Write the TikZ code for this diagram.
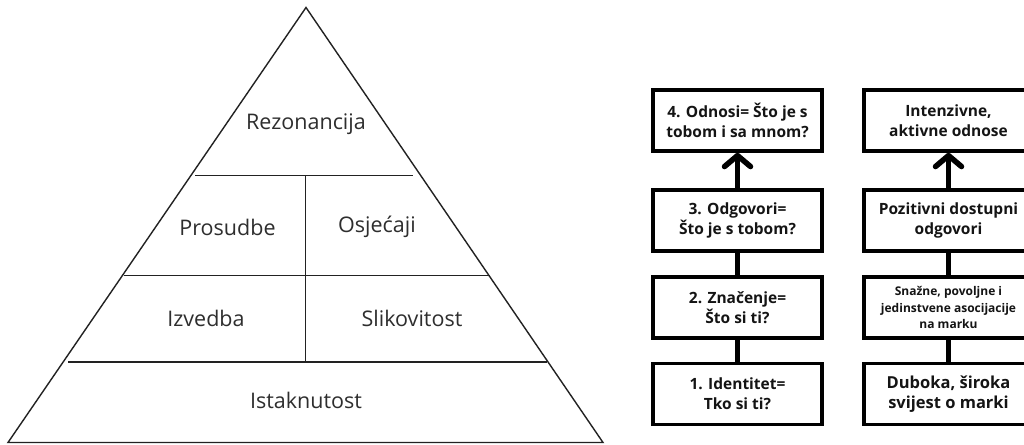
\documentclass[tikz,border=0pt]{standalone}
\usepackage{fontspec}
\setmainfont{Open Sans}
\usetikzlibrary{arrows.meta}
\definecolor{pyrtext}{HTML}{2E2E2E}
\definecolor{pyrline}{HTML}{222222}
\definecolor{boxtext}{HTML}{141414}
\tikzset{
  pyrlab/.style={text=pyrtext, font=\fontsize{21.5}{26}\selectfont, inner sep=0pt},
  pyredge/.style={draw=pyrline, line width=1.4pt},
  boxnode/.style={draw=black, line width=3.6pt, minimum width=169pt, minimum height=61pt,
    align=center, text=boxtext, inner sep=2pt, font=\bfseries\fontsize{15.5}{20}\selectfont},
  conn/.style={draw=black, line width=5.5pt},
  upar/.style={conn, -{Straight Barb[length=11pt,width=26pt,round]}}
}
\begin{document}
\begin{tikzpicture}[x=1pt,y=-1pt]
\clip (0,0) rectangle (1024,444);
\fill[white] (0,0) rectangle (1024,444);
% pyramid
\coordinate (apex) at (306,7.5);
\coordinate (bl) at (8,442.5);
\coordinate (br) at (603,442.5);
\draw[pyredge, line join=miter] (apex) -- (bl) -- (br) -- cycle;
\draw[pyredge] (195,175.7) -- (413,175.7);
\draw[pyredge] (124,275.5) -- (490,275.5);
\draw[pyredge] (68,362) -- (547,362);
\draw[pyredge] (305.5,175.7) -- (305.5,362);
\node[pyrlab] (rez) at (306,124) {Rezonancija};
\node[pyrlab] (pros) at (227.5,227) {Prosudbe};
\node[pyrlab] (osj) at (377,227) {Osjećaji};
\node[pyrlab] (izv) at (206,318) {Izvedba};
\node[pyrlab] (slik) at (412,318) {Slikovitost};
\node[pyrlab] (ist) at (306,400) {Istaknutost};
% left column
\node[boxnode] (l4) at (737.5,120.5) {4. Odnosi= Što je s\\tobom i sa mnom?};
\node[boxnode] (l3) at (737.5,220.5) {3. Odgovori=\\Što je s tobom?};
\node[boxnode] (l2) at (737.5,307.5) {2. Značenje=\\Što si ti?};
\node[boxnode] (l1) at (737.5,394) {1. Identitet=\\Tko si ti?};
% right column
\node[boxnode] (r4) at (948.5,120.5) {Intenzivne,\\aktivne odnose};
\node[boxnode] (r3) at (948.5,220.5) {Pozitivni dostupni\\odgovori};
\node[boxnode, font=\bfseries\fontsize{12}{16.5}\selectfont] (r2) at (948.5,307.5) {Snažne, povoljne i\\jedinstvene asocijacije\\na marku};
\node[boxnode, font=\bfseries\fontsize{16.5}{20.5}\selectfont] (r1) at (948.5,394) {Duboka, široka\\svijest o marki};
% connectors
\draw[upar] (l3.north) -- (l4.south);
\draw[conn] (l2.north) -- (l3.south);
\draw[conn] (l1.north) -- (l2.south);
\draw[upar] (r3.north) -- (r4.south);
\draw[conn] (r2.north) -- (r3.south);
\draw[conn] (r1.north) -- (r2.south);
\end{tikzpicture}
\end{document}
